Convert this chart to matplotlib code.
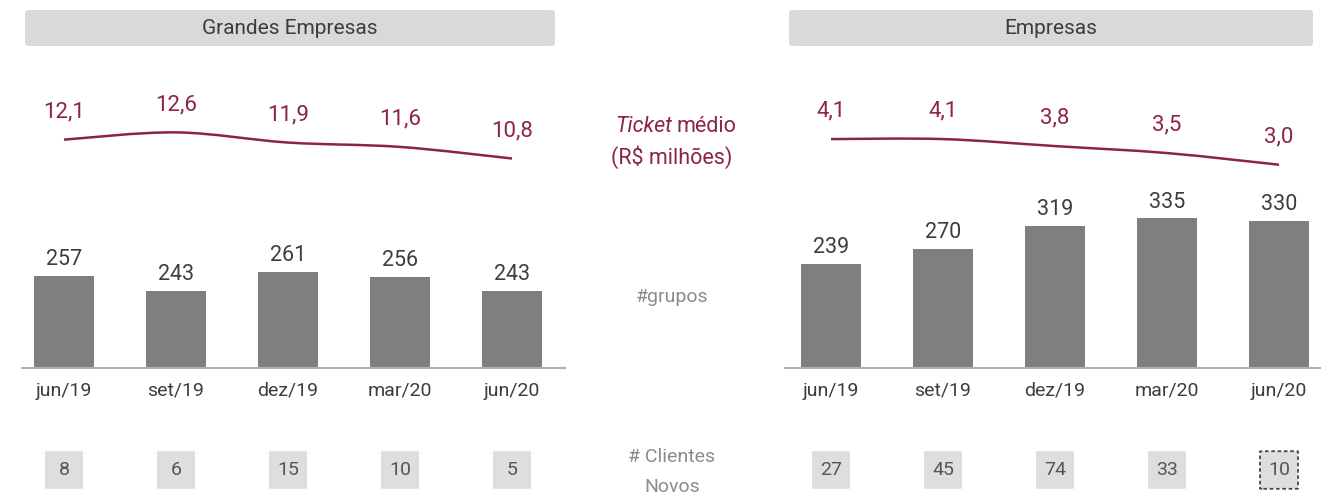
import matplotlib
matplotlib.use("Agg")
import matplotlib.pyplot as plt
from matplotlib.patches import FancyBboxPatch
from matplotlib.path import Path
from matplotlib.patches import PathPatch
import numpy as np

periods = ["jun/19", "set/19", "dez/19", "mar/20", "jun/20"]
panels = ["Grandes Empresas", "Empresas"]
ticket_ge = [12.1, 12.6, 11.9, 11.6, 10.8]
ticket_emp = [4.1, 4.1, 3.8, 3.5, 3.0]
ticket_labels_ge = ["12,1", "12,6", "11,9", "11,6", "10,8"]
ticket_labels_emp = ["4,1", "4,1", "3,8", "3,5", "3,0"]
grupos_ge = [257, 243, 261, 256, 243]
grupos_emp = [239, 270, 319, 335, 330]
novos_ge = [8, 6, 15, 10, 5]
novos_emp = [27, 45, 74, 33, 10]

plt.rcParams['font.family'] = ['Roboto', 'DejaVu Sans']

W, H = 1324, 497
fig = plt.figure(figsize=(W / 100, H / 100), dpi=100)

MAROON = "#8c2446"
BAR = "#7f7f7f"
HEADER_BG = "#d9d9d9"
DARK = "#3d3d3d"
MID = "#8c8c8c"


def rect(x0, y0, x1, y1):
    # pixel box (top-left origin) -> figure fraction [l, b, w, h]
    return [x0 / W, 1 - y1 / H, (x1 - x0) / W, (y1 - y0) / H]


def fx(x):
    return x / W


def fy(y):
    return 1 - y / H


def smooth_path(xs, ys):
    pts = np.column_stack([xs, ys]).astype(float)
    n = len(pts)
    verts = [pts[0]]
    codes = [Path.MOVETO]
    for i in range(n - 1):
        p0 = pts[i - 1] if i > 0 else pts[i]
        p1 = pts[i]
        p2 = pts[i + 1]
        p3 = pts[i + 2] if i + 2 < n else pts[i + 1]
        c1 = p1 + (p2 - p0) / 6.0
        c2 = p2 - (p3 - p1) / 6.0
        verts += [c1, c2, p2]
        codes += [Path.CURVE4] * 3
    return Path(verts, codes)


configs = [
    dict(name=panels[0], left=8, header=(25, 555), base=(22, 565),
         ticket=ticket_ge, tlabels=ticket_labels_ge, tlim=(9.32, 14.83),
         grupos=grupos_ge, glim=(171, 328), novos=novos_ge),
    dict(name=panels[1], left=775, header=(789, 1313), base=(785, 1320),
         ticket=ticket_emp, tlabels=ticket_labels_emp, tlim=(2.344, 5.777),
         grupos=grupos_emp, glim=(17, 374), novos=novos_emp),
]

PW = 560
x = np.arange(len(periods))

for c in configs:
    L = c["left"]
    # header
    hx0, hx1 = c["header"]
    fig.patches.append(FancyBboxPatch((fx(hx0), fy(46)), fx(hx1 - hx0), (36) / H,
                                      boxstyle="round,pad=0,rounding_size=0.004",
                                      transform=fig.transFigure, facecolor=HEADER_BG,
                                      edgecolor="none"))
    fig.text(fx((hx0 + hx1) / 2), fy(28), c["name"], ha="center", va="center",
             fontsize=15, color=DARK)

    # ticket line
    axl = fig.add_axes(rect(L, 100, L + PW, 180))
    axl.set_xlim(-0.5, 4.5)
    axl.set_ylim(*c["tlim"])
    axl.axis("off")
    axl.add_patch(PathPatch(smooth_path(x, c["ticket"]), facecolor="none",
                            edgecolor=MAROON, lw=1.8))
    for i, (v, lab) in enumerate(zip(c["ticket"], c["tlabels"])):
        axl.annotate(lab, (i, v), xytext=(0, 20), textcoords="offset points",
                     ha="center", va="center", fontsize=16, color=MAROON)

    # bars
    axb = fig.add_axes(rect(L, 200, L + PW, 368))
    axb.set_xlim(-0.5, 4.5)
    axb.set_ylim(*c["glim"])
    axb.bar(x, c["grupos"], width=0.535, color=BAR, bottom=0)
    for s in axb.spines.values():
        s.set_visible(False)
    axb.set_yticks([])
    axb.set_xticks(x)
    axb.set_xticklabels(periods, fontsize=14, color=DARK)
    axb.tick_params(axis="x", length=0, pad=10)
    b0, b1 = c["base"]
    axb.axhline(c["glim"][0], xmin=(b0 - L) / PW, xmax=(b1 - L) / PW,
                color="#b0b0b0", lw=1.5, clip_on=False)
    for i, v in enumerate(c["grupos"]):
        axb.annotate(str(v), (i, v), xytext=(0, 4), textcoords="offset points",
                     ha="center", va="bottom", fontsize=15.5, color=DARK)

    # novos clientes boxes
    axn = fig.add_axes(rect(L, 450, L + PW, 490))
    axn.set_xlim(-0.5, 4.5)
    axn.set_ylim(0, 1)
    axn.axis("off")
    bw = 38 / 112
    for i, v in enumerate(c["novos"]):
        dashed = (c is configs[1] and i == len(c["novos"]) - 1)
        axn.add_patch(FancyBboxPatch((i - bw / 2, 0.03), bw, 0.94,
                                     boxstyle="round,pad=0,rounding_size=0.03",
                                     facecolor="#dedede",
                                     edgecolor="#3a4a5a" if dashed else "none",
                                     linestyle=(0, (2, 1.5)) if dashed else "-",
                                     lw=1.3 if dashed else 0, mutation_aspect=0.25))
        axn.text(i, 0.5, str(v), ha="center", va="center", fontsize=14,
                 color="#555555")

# middle labels
fig.text(fx(672), fy(126), "Ticket", ha="right", va="center", fontsize=15.5,
         color=MAROON, style="italic")
fig.text(fx(677), fy(126), "médio", ha="left", va="center", fontsize=15.5,
         color=MAROON)
fig.text(fx(672), fy(157), "(R$ milhões)", ha="center", va="center", fontsize=15.5,
         color=MAROON)
fig.text(fx(672), fy(297), "#grupos", ha="center", va="center", fontsize=14,
         color=MID)
fig.text(fx(672), fy(457), "# Clientes", ha="center", va="center", fontsize=14,
         color=MID)
fig.text(fx(672), fy(487), "Novos", ha="center", va="center", fontsize=14,
         color=MID)

fig.savefig("out.png", dpi=100, facecolor="white")
